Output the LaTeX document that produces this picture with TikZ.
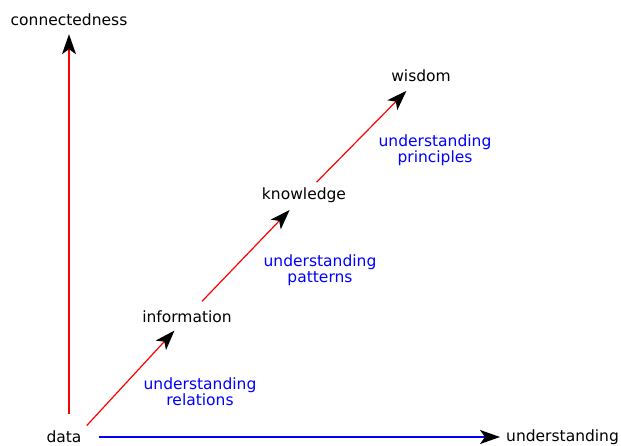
\documentclass[tikz,border=0pt]{standalone}
\usepackage{fontspec}
\setmainfont{DejaVu Sans}
\usetikzlibrary{arrows.meta}
\usetikzlibrary{positioning}
\begin{document}
\begin{tikzpicture}[x=1pt,y=-1pt,every node/.style={font=\fontsize{15.5}{16}\selectfont,inner sep=3pt},
  blab/.style={blue,align=center},
  tip/.style={-{Stealth[black,length=20pt,width=14pt,inset=5pt]}},
  axis/.style={tip,line width=1.6pt},
  rung/.style={tip,red,line width=1.2pt,shorten <=9pt,shorten >=6pt}]
  \useasboundingbox (0,0) rectangle (621,446);
  \node (data) at (64,437) {data};
  \node (connectedness) at (69,20) {connectedness};
  \node[anchor=west] (understanding) at (503,437) {understanding};
  \node (information) at (187,317) {information};
  \node (knowledge) at (304,195) {knowledge};
  \node (wisdom) at (421,76) {wisdom};
  \node[blab] (relations) at (200,392) {understanding\\relations};
  \node[blab] (patterns) at (320,270) {understanding\\patterns};
  \node[blab] (principles) at (435,150) {understanding\\principles};
  \draw[axis,red,shorten <=14pt,shorten >=5pt] (data.north -| connectedness.south) -- (connectedness.south);
  \draw[axis,blue,shorten <=14pt,shorten >=3pt] (data.east) -- (understanding.west);
  \draw[rung,shorten <=3pt] (data.north east) -- (information);
  \draw[rung] (information) -- (knowledge);
  \draw[rung,shorten <=3pt,shorten >=8pt] (knowledge) -- (wisdom);
\end{tikzpicture}
\end{document}
